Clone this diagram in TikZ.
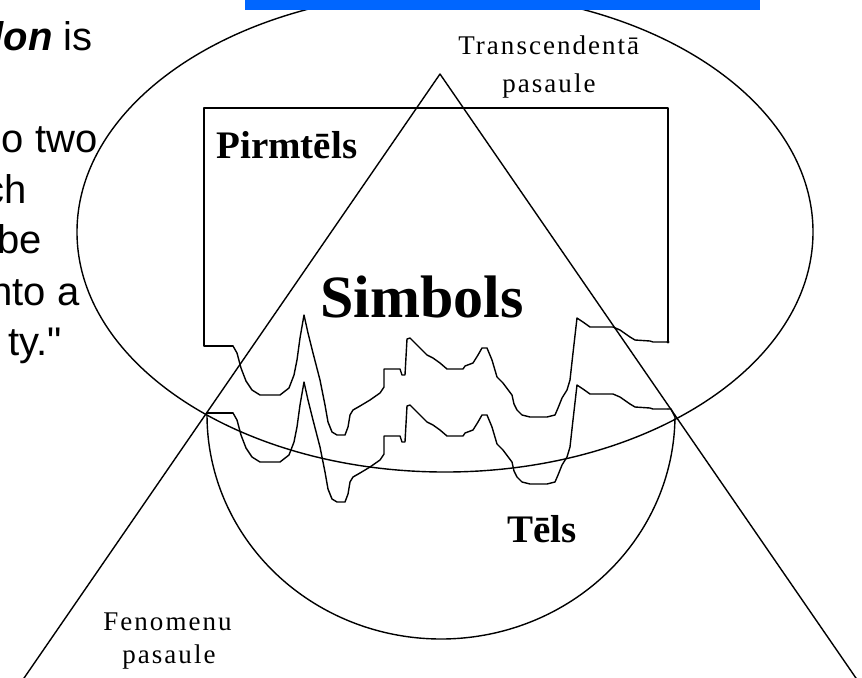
\documentclass[tikz,border=0pt]{standalone}
\usepackage{fontspec}
\setmainfont{Liberation Serif}
\newfontfamily\arialf{Liberation Sans}
\newfontfamily\lblfont[LetterSpace=7.5]{Liberation Serif}
\definecolor{barblue}{HTML}{0066FF}
\begin{document}
\begin{tikzpicture}[x=0.5pt,y=-0.5pt,
  thinline/.style={line width=0.7pt,line join=round,line cap=round},
  lefttext/.style={inner sep=0pt,anchor=base east,font=\arialf\fontsize{20}{24}\selectfont},
  smalllbl/.style={inner sep=0pt,anchor=base west,font=\lblfont\fontsize{13.5}{16}\selectfont},
  boldlbl/.style={inner sep=0pt,anchor=base west,font=\bfseries\fontsize{19.5}{23}\selectfont},
  biglbl/.style={inner sep=0pt,anchor=base west,font=\bfseries\fontsize{30}{36}\selectfont},
  wave/.pic={\draw[thinline] (233,346) -- (237,353) -- (241,368) -- (246,381) -- (252,390) -- (260,395) -- (280,395) -- (289,388) -- (294,375) -- (297,360) -- (300,338) -- (304,315) -- (308,333) -- (313,353) -- (320,380) -- (325,405) -- (328,422) -- (332,432) -- (337,435) -- (345,435) -- (348,427) -- (350,415) -- (353,410) -- (360,406) -- (370,400) -- (380,393) -- (384,387) -- (384,369) -- (400,369) -- (402,375) -- (405,375) -- (407,339) -- (410,338) -- (420,348) -- (427,355) -- (433,358) -- (440,363) -- (447,369) -- (463,369) -- (465,366) -- (473,363) -- (478,355) -- (482,348) -- (487,348) -- (492,360) -- (497,377) -- (503,383) -- (512,395) -- (514,404) -- (517,410) -- (522,415) -- (530,417) -- (547,417) -- (555,415) -- (558,408) -- (562,398) -- (567,390) -- (570,380) -- (573,353) -- (577,318) -- (583,322) -- (590,327) -- (613,327) -- (620,330) -- (630,337) -- (635,340) -- (650,341) -- (653,342) -- (668,342);}
]
\useasboundingbox (0,0) rectangle (862,677);
\clip (0,0) rectangle (862,677);
\fill[white] (0,0) rectangle (862,677);

% big ellipse (transcendent world)
\draw[thinline] (445,232) ellipse [x radius=368, y radius=240];
% triangle (phenomenal world)
\coordinate (apex) at (440,74);
\coordinate (tl) at (22,681);
\coordinate (tr) at (858,681);
\draw[thinline] (tl) -- (apex) -- (tr);
% lower half circle (body)
\draw[thinline] plot[domain=0:180,samples=90,smooth] ({441+234*cos(\x)},{415+224*sin(\x)});
% box (primordial body) with wavy bottom
\draw[thinline] (233,346) -- (204,346) -- (204,108) -- (668,108) -- (668,342);
\fill (668,342) circle[radius=0.8pt];
\pic at (0,0) {wave};
\draw[thinline] (207,413) -- (233,413);
\pic at (0,67) {wave};
\draw[thinline] (668,409) -- (671,409) -- (675,417);

% top bar
\fill[barblue] (245,0) rectangle (760,10);

% left text fragments
\node[lefttext] (l1) at (93,50) {\textbf{\textit{lon}} is};
\node[lefttext] (l2) at (98,152) {o two};
\node[lefttext] (l3) at (27,203) {ch};
\node[lefttext] (l4) at (42,253) {be};
\node[lefttext] (l5) at (80,305) {nto a};
\node[lefttext] (l6) at (62,355) {ty."};

% labels
\node[smalllbl] (tr1) at (458,54) {Transcendentā};
\node[smalllbl] (tr2) at (502,92) {pasaule};
\node[smalllbl] (fe1) at (103,630) {Fenomenu};
\node[smalllbl] (fe2) at (122,663) {pasaule};
\node[boldlbl] (pirm) at (216,158) {Pirmtēls};
\node[biglbl] (simb) at (320,317) {Simbols};
\node[boldlbl] (tels) at (507,542) {Tēls};
\end{tikzpicture}
\end{document}
